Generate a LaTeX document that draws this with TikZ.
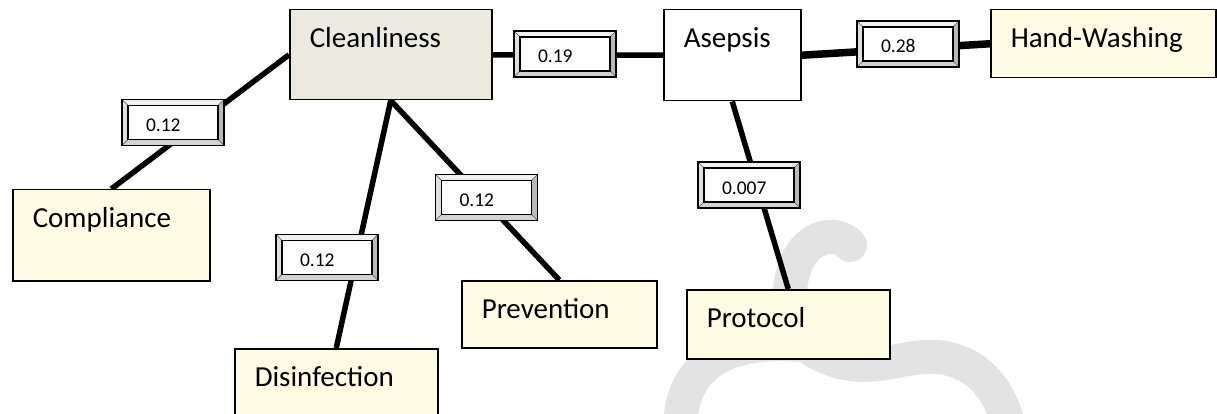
\documentclass[tikz,border=0pt]{standalone}
\usepackage{fontspec}
\setmainfont{Carlito}
\usetikzlibrary{backgrounds}

\definecolor{cleanfill}{HTML}{ECE9DF}
\definecolor{notefill}{HTML}{FEFCE3}
\definecolor{swirl}{HTML}{E3E3E3}

\begin{document}
\begin{tikzpicture}[x=1pt, y=-1pt,
    main/.style = {draw, line width=1.5pt, anchor=north west, inner xsep=20pt, inner ysep=0pt,
                   text height=38pt, align=left, font=\fontsize{29}{34}\selectfont},
    note/.style = {main, fill=notefill},
    link/.style = {line width=5.5pt},
    weight/.style = {draw, line width=1.8pt, fill=white, inner xsep=24pt, inner ysep=0pt,
                     text width=54pt, text height=32pt, text depth=14pt, align=left,
                     font=\fontsize{19.5}{22}\selectfont,
                     path picture={
        \coordinate (p1) at (path picture bounding box.north west);
        \coordinate (p2) at (path picture bounding box.north east);
        \coordinate (p3) at (path picture bounding box.south east);
        \coordinate (p4) at (path picture bounding box.south west);
        \filldraw[fill=gray!12, draw=black!60, line width=0.4pt] (p1) -- (p2) -- ([shift={(-6,6)}]p2) -- ([shift={(6,6)}]p1) -- cycle;
        \filldraw[fill=gray!25, draw=black!60, line width=0.4pt] (p4) -- (p1) -- ([shift={(6,6)}]p1) -- ([shift={(6,-6)}]p4) -- cycle;
        \filldraw[fill=gray!55, draw=black!60, line width=0.4pt] (p2) -- (p3) -- ([shift={(-6,-6)}]p3) -- ([shift={(-6,6)}]p2) -- cycle;
        \filldraw[fill=gray!35, draw=black!60, line width=0.4pt] (p3) -- (p4) -- ([shift={(6,-6)}]p4) -- ([shift={(-6,-6)}]p3) -- cycle;
        \draw[line width=1.4pt] ([shift={(6,6)}]p1) rectangle ([shift={(-6,-6)}]p3);
    }}]
    \useasboundingbox (0,0) rectangle (1217,414);

    % boxes
    \node[main, fill=cleanfill, text width=162pt, text depth=52pt] (clean) at (289,9) {Cleanliness};
    \node[main, fill=white, text width=97pt, text depth=53pt] (asep) at (663,9) {Asepsis};
    \node[note, text width=185pt, text depth=30pt] (hw) at (990,9) {Hand-Washing};
    \node[note, text width=157pt, text depth=53pt] (comp) at (12,189) {Compliance};
    \node[note, text width=163pt, text depth=60pt] (dis) at (234,348) {Disinfection};
    \node[note, text width=155pt, text depth=29pt] (prev) at (461,280) {Prevention};
    \node[note, text width=163pt, text depth=31pt] (prot) at (686,289) {Protocol};

    \begin{pgfonlayer}{background}
        % watermark
        \draw[swirl, line width=34pt, line cap=round] (850,245) .. controls (835,228) and (795,235) .. (790,290)
            .. controls (788,330) and (800,350) .. (840,362) .. controls (880,372) and (910,352) .. (945,358)
            .. controls (980,365) and (1000,390) .. (1010,430);
        \draw[swirl, line width=34pt] (800,345) .. controls (740,340) and (680,355) .. (680,430);

        \draw[link] (clean.west) -- (comp.north);
        \draw[link] (clean.east) -- (asep.west);
        \draw[link, line width=7.5pt] (asep.east) -- (hw.west);
        \draw[link] (clean.south) -- (dis.north);
        \draw[link] (clean.south) -- (prev.north);
        \draw[link] (asep.south) -- (prot.north);
    \end{pgfonlayer}

    % weights
    \node[weight] (w1) at (173,122.5) {0.12};
    \node[weight] (w2) at (565,54) {0.19};
    \node[weight] (w3) at (908,44) {0.28};
    \node[weight] (w4) at (749,185) {0.007};
    \node[weight] (w5) at (486.5,197.5) {0.12};
    \node[weight] (w6) at (327,257.5) {0.12};
\end{tikzpicture}
\end{document}
